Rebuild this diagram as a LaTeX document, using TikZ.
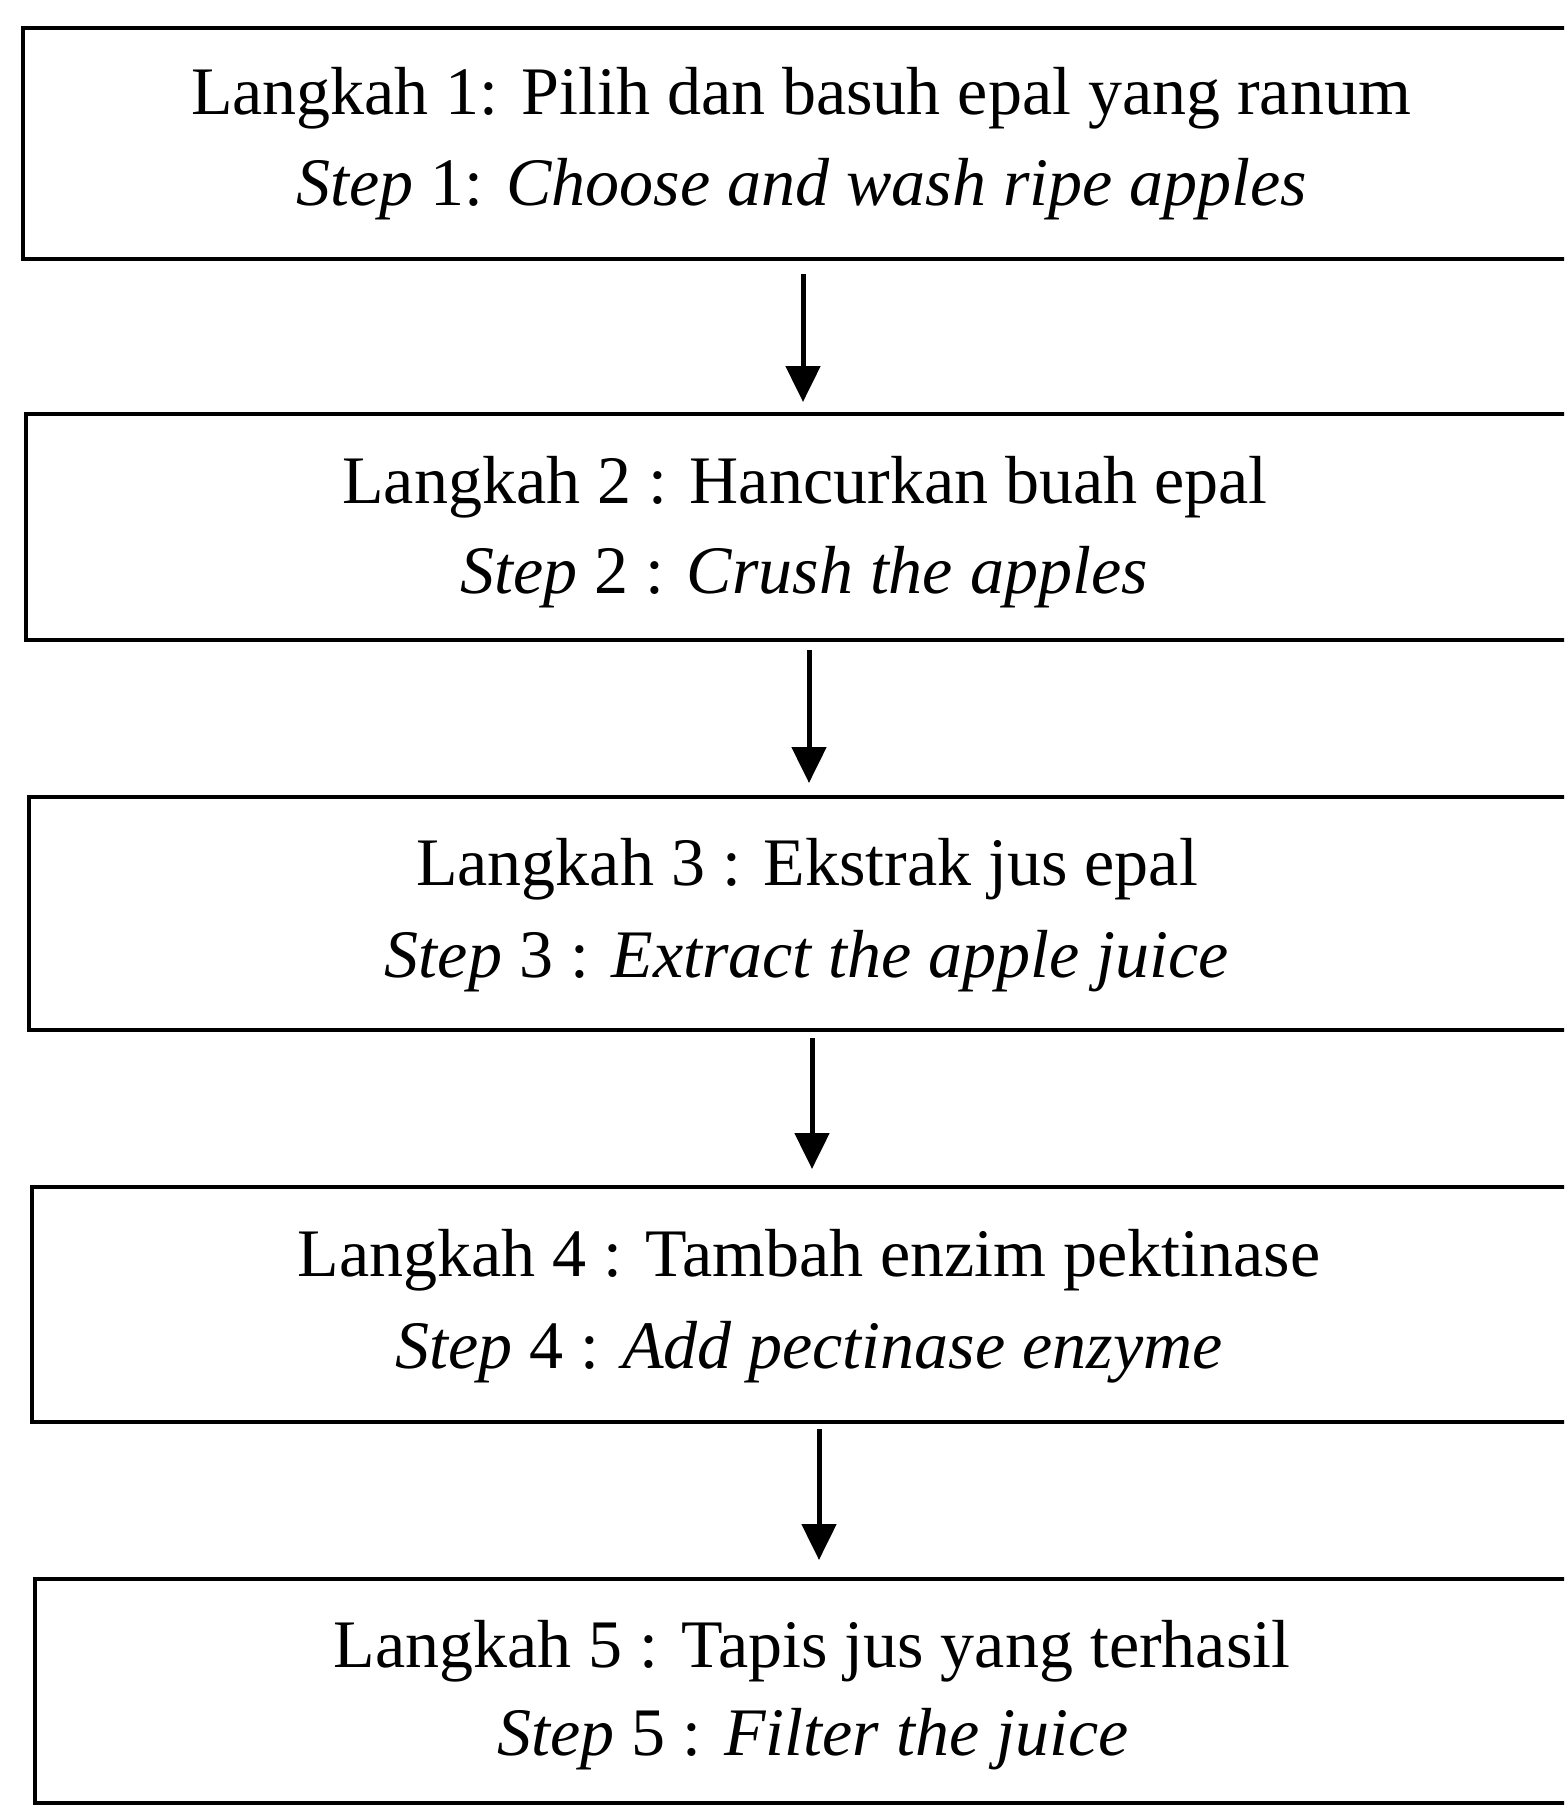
\documentclass[tikz,border=0pt]{standalone}
\usepackage{fontspec}
\setmainfont{Liberation Serif}
\usetikzlibrary{arrows.meta}
\begin{document}
\begin{tikzpicture}[x=1pt,y=-1pt,
  stepbox/.style={draw=black, line width=3.5pt, rectangle, inner sep=0pt, outer sep=0pt, anchor=north west},
  steptext/.style={anchor=base, inner sep=0pt, font=\fontsize{68}{80}\selectfont},
  arr/.style={line width=5pt, -{Triangle[width=34pt,length=36pt]}}]
\fill[white] (0,0) rectangle (1564,1806);
\useasboundingbox (0,0) rectangle (1564,1806);
\begin{scope}
\clip (0,0) rectangle (1564,1806);
% boxes (their right sides run off the page, as in the scan)
\node[stepbox, minimum width=1557pt, minimum height=231pt] (b1) at (23,28) {};
\node[stepbox, minimum width=1554pt, minimum height=226pt] (b2) at (26,414) {};
\node[stepbox, minimum width=1551pt, minimum height=233pt] (b3) at (29,797) {};
\node[stepbox, minimum width=1548pt, minimum height=235pt] (b4) at (32,1187) {};
\node[stepbox, minimum width=1545pt, minimum height=224pt] (b5) at (35,1579) {};
\end{scope}
% texts
\node[steptext] (t1a) at (801,115) {Langkah 1: Pilih dan basuh epal yang ranum};
\node[steptext] (t1b) at (802,205) {\textit{Step} 1: \textit{Choose and wash ripe apples}};
\node[steptext] (t2a) at (805,503) {Langkah 2 : Hancurkan buah epal};
\node[steptext] (t2b) at (804,593) {\textit{Step} 2 : \textit{Crush the apples}};
\node[steptext] (t3a) at (807,885) {Langkah 3 : Ekstrak jus epal};
\node[steptext] (t3b) at (807,977) {\textit{Step} 3 : \textit{Extract the apple juice}};
\node[steptext] (t4a) at (809,1276) {Langkah 4 : Tambah enzim pektinase};
\node[steptext] (t4b) at (809,1368) {\textit{Step} 4 : \textit{Add pectinase enzyme}};
\node[steptext] (t5a) at (812,1667) {Langkah 5 : Tapis jus yang terhasil};
\node[steptext] (t5b) at (813,1755) {\textit{Step} 5 : \textit{Filter the juice}};
% arrow columns
\coordinate (x1) at (803,0);
\coordinate (x2) at (809,0);
\coordinate (x3) at (812,0);
\coordinate (x4) at (819,0);
\draw[arr] ([yshift=-15pt]b1.south -| x1) -- ([yshift=12pt]b2.north -| x1);
\draw[arr] ([yshift=-10pt]b2.south -| x2) -- ([yshift=14pt]b3.north -| x2);
\draw[arr] ([yshift=-8pt]b3.south -| x3) -- ([yshift=18pt]b4.north -| x3);
\draw[arr] ([yshift=-7pt]b4.south -| x4) -- ([yshift=19pt]b5.north -| x4);
\end{tikzpicture}
\end{document}
